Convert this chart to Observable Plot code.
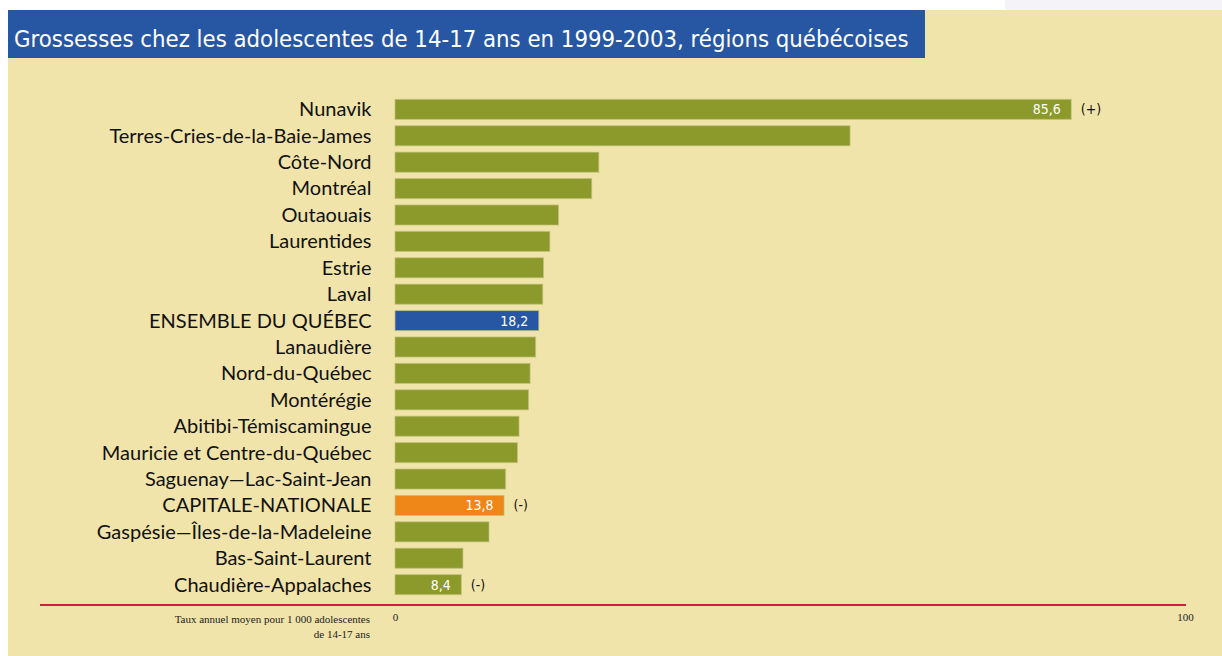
<!DOCTYPE html>
<html>
<head>
<meta charset="utf-8">
<script src="https://cdn.jsdelivr.net/npm/d3@7"></script>
<script src="https://cdn.jsdelivr.net/npm/@observablehq/plot@0.6"></script>
<style>
  html, body { margin: 0; padding: 0; background: #ffffff; }
  #wrap { position: relative; width: 1222px; height: 656px; overflow: hidden; background: #ffffff; }
  #lav { position: absolute; left: 1005px; top: 0; width: 217px; height: 10px; background: #f5f3f8; }
  #panel { position: absolute; left: 8px; top: 10px; width: 1214px; height: 646px; background: #f0e4aa; }
  #title { position: absolute; left: 8px; top: 10px; width: 917px; height: 48px; background: #2757a3;
           color: #ffffff; font-family: "Liberation Sans Narrow", "DejaVu Sans Condensed", sans-serif;
           font-size: 23.7px; line-height: 48px; padding-left: 6px; box-sizing: border-box; white-space: nowrap; }
  #title span { position: relative; top: 5px; }
  #chart { position: absolute; left: 0; top: 0; }
  #redline { position: absolute; left: 40px; top: 604px; width: 1146px; height: 1.5px; background: #cf1f3d; }
  #xtitle { position: absolute; right: 852px; top: 612px; text-align: right; font-family: "Liberation Serif", "DejaVu Serif", serif;
            font-size: 11px; line-height: 15px; color: #222; }
</style>
</head>
<body>
<div id="wrap">
  <div id="lav"></div>
  <div id="panel"></div>
  <div id="title"><span>Grossesses chez les adolescentes de 14-17 ans en 1999-2003, régions québécoises</span></div>
  <div id="chart"></div>
  <div id="redline"></div>
  <div id="xtitle">Taux annuel moyen pour 1 000 adolescentes<br>de 14-17 ans</div>
</div>
<script>
const regions = [
  "Nunavik",
  "Terres-Cries-de-la-Baie-James",
  "Côte-Nord",
  "Montréal",
  "Outaouais",
  "Laurentides",
  "Estrie",
  "Laval",
  "ENSEMBLE DU QUÉBEC",
  "Lanaudière",
  "Nord-du-Québec",
  "Montérégie",
  "Abitibi-Témiscamingue",
  "Mauricie et Centre-du-Québec",
  "Saguenay—Lac-Saint-Jean",
  "CAPITALE-NATIONALE",
  "Gaspésie—Îles-de-la-Madeleine",
  "Bas-Saint-Laurent",
  "Chaudière-Appalaches"
];
const rates = [85.6, 57.6, 25.8, 24.9, 20.7, 19.6, 18.8, 18.7, 18.2, 17.8, 17.1, 16.9, 15.7, 15.5, 14.0, 13.8, 11.9, 8.6, 8.4];
const valueLabels = ["85,6", "", "", "", "", "", "", "", "18,2", "", "", "", "", "", "", "13,8", "", "", "8,4"];
const flags = ["(+)", "", "", "", "", "", "", "", "", "", "", "", "", "", "", "(-)", "", "", "(-)"];
const groups = regions.map(r => r === "ENSEMBLE DU QUÉBEC" ? "quebec" : r === "CAPITALE-NATIONALE" ? "capitale" : "region");
const xTicks = [0, 100];

const data = regions.map((r, i) => ({region: r, rate: rates[i], label: valueLabels[i], flag: flags[i], group: groups[i]}));

const chart = Plot.plot({
  width: 1222,
  height: 656,
  marginLeft: 395,
  marginRight: 37,
  marginTop: 93,
  marginBottom: 51,
  style: {background: "transparent", overflow: "visible"},
  x: {domain: [0, 100], axis: null},
  y: {domain: regions, padding: 0.24, round: false, insetBottom: 4, axis: null},
  color: {domain: ["region", "quebec", "capitale"], range: ["#8b9a2b", "#2757a3", "#ee8718"]},
  marks: [
    Plot.barX(data, {x: "rate", y: "region", fill: "group", stroke: "#c2c27a", strokeWidth: 1, strokeOpacity: 0.7}),
    Plot.axisY({label: null, tickSize: 0, tickPadding: 24, fontSize: 20, fontFamily: "Lato, 'Open Sans', sans-serif", fill: "#111"}),
    Plot.axisX({label: null, ticks: xTicks, tickSize: 0, tickPadding: 8, fontSize: 11, fontFamily: "'Liberation Serif', serif", fill: "#222"}),
    Plot.text(data.filter(d => d.label), {x: "rate", y: "region", text: "label", textAnchor: "end", dx: -11,
      fill: "white", fontSize: 14, fontFamily: "'Liberation Sans Narrow', 'DejaVu Sans Condensed', sans-serif"}),
    Plot.text(data.filter(d => d.flag), {x: "rate", y: "region", text: "flag", textAnchor: "start", dx: 9,
      fill: "#111", fontSize: 14, fontFamily: "'Liberation Sans Narrow', 'DejaVu Sans Condensed', sans-serif"})
  ]
});
document.getElementById("chart").appendChild(chart);
</script>
</body>
</html>
